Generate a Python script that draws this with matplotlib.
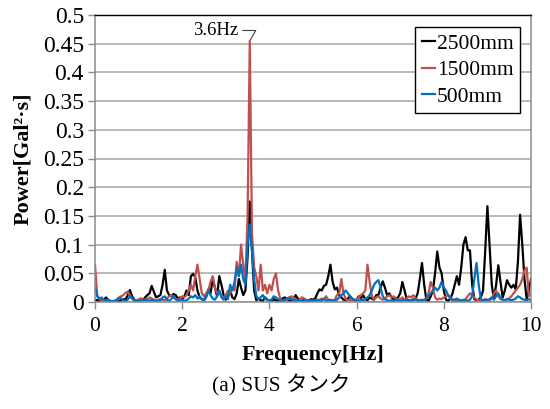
import numpy as np
import matplotlib
matplotlib.use("Agg")
import matplotlib.pyplot as plt

plt.rcParams['font.family'] = ['Liberation Serif', 'Noto Sans CJK JP', 'DejaVu Sans']

# frequency bins (Hz), 0.05 Hz step
freq = np.round(np.arange(201) * 0.05, 2)

p2500 = [
    0.004, 0.003, 0.002, 0.004, 0.003, 0.008, 0.004, 0.002, 0.001, 0.002,
    0.003, 0.002, 0.003, 0.005, 0.004, 0.012, 0.021, 0.010, 0.004, 0.002,
    0.004, 0.006, 0.003, 0.008, 0.012, 0.015, 0.028, 0.018, 0.008, 0.010,
    0.012, 0.030, 0.056, 0.020, 0.012, 0.010, 0.014, 0.012, 0.006, 0.008,
    0.005, 0.010, 0.020, 0.012, 0.045, 0.049, 0.043, 0.020, 0.008, 0.005,
    0.003, 0.010, 0.022, 0.015, 0.040, 0.025, 0.010, 0.045, 0.030, 0.012,
    0.004, 0.010, 0.020, 0.008, 0.005, 0.015, 0.040, 0.025, 0.012, 0.020,
    0.080, 0.175, 0.090, 0.020, 0.003, 0.006, 0.003, 0.002, 0.008, 0.004,
    0.003, 0.002, 0.005, 0.003, 0.002, 0.004, 0.006, 0.008, 0.005, 0.003,
    0.002, 0.004, 0.012, 0.006, 0.003, 0.002, 0.004, 0.003, 0.002, 0.005,
    0.004, 0.006, 0.015, 0.022, 0.020, 0.028, 0.030, 0.045, 0.065, 0.035,
    0.022, 0.025, 0.012, 0.008, 0.004, 0.003, 0.006, 0.010, 0.005, 0.003,
    0.004, 0.010, 0.006, 0.012, 0.005, 0.003, 0.008, 0.006, 0.004, 0.012,
    0.012, 0.025, 0.036, 0.025, 0.012, 0.015, 0.008, 0.004, 0.006, 0.008,
    0.015, 0.035, 0.020, 0.005, 0.002, 0.003, 0.004, 0.006, 0.015, 0.040,
    0.068, 0.030, 0.004, 0.002, 0.010, 0.020, 0.050, 0.088, 0.060, 0.050,
    0.020, 0.004, 0.002, 0.006, 0.015, 0.030, 0.045, 0.030, 0.060, 0.100,
    0.113, 0.090, 0.090, 0.030, 0.005, 0.003, 0.004, 0.008, 0.020, 0.090,
    0.167, 0.100, 0.030, 0.005, 0.030, 0.064, 0.035, 0.008, 0.020, 0.038,
    0.030, 0.025, 0.030, 0.022, 0.070, 0.152, 0.100, 0.040, 0.005, 0.020,
    0.040,
]

p1500 = [
    0.065, 0.012, 0.005, 0.003, 0.002, 0.004, 0.003, 0.002, 0.001, 0.002,
    0.003, 0.005, 0.010, 0.012, 0.016, 0.018, 0.012, 0.006, 0.003, 0.002,
    0.004, 0.006, 0.004, 0.003, 0.005, 0.008, 0.006, 0.004, 0.003, 0.004,
    0.005, 0.004, 0.003, 0.006, 0.010, 0.012, 0.008, 0.005, 0.004, 0.006,
    0.010, 0.008, 0.012, 0.020, 0.030, 0.020, 0.045, 0.065, 0.040, 0.015,
    0.010, 0.015, 0.020, 0.035, 0.045, 0.025, 0.015, 0.020, 0.010, 0.008,
    0.012, 0.020, 0.015, 0.025, 0.020, 0.070, 0.045, 0.100, 0.065, 0.040,
    0.150, 0.455, 0.120, 0.060, 0.045, 0.020, 0.065, 0.020, 0.030, 0.015,
    0.030, 0.020, 0.040, 0.050, 0.020, 0.005, 0.003, 0.002, 0.004, 0.006,
    0.010, 0.008, 0.004, 0.002, 0.005, 0.008, 0.006, 0.003, 0.002, 0.003,
    0.002, 0.003, 0.002, 0.004, 0.006, 0.005, 0.010, 0.004, 0.003, 0.002,
    0.004, 0.012, 0.015, 0.040, 0.015, 0.005, 0.003, 0.004, 0.003, 0.002,
    0.004, 0.008, 0.012, 0.015, 0.020, 0.065, 0.035, 0.010, 0.005, 0.008,
    0.010, 0.006, 0.004, 0.005, 0.010, 0.012, 0.008, 0.010, 0.006, 0.004,
    0.005, 0.008, 0.004, 0.006, 0.010, 0.008, 0.012, 0.006, 0.004, 0.003,
    0.002, 0.004, 0.006, 0.015, 0.035, 0.025, 0.008, 0.004, 0.006, 0.005,
    0.008, 0.010, 0.012, 0.008, 0.005, 0.003, 0.002, 0.004, 0.003, 0.002,
    0.005, 0.010, 0.015, 0.012, 0.008, 0.004, 0.003, 0.002, 0.003, 0.005,
    0.004, 0.003, 0.006, 0.015, 0.020, 0.010, 0.005, 0.004, 0.003, 0.005,
    0.006, 0.010, 0.015, 0.020, 0.025, 0.030, 0.040, 0.055, 0.060, 0.010,
    0.015,
]

p500 = [
    0.025, 0.010, 0.005, 0.008, 0.004, 0.003, 0.002, 0.001, 0.002, 0.001,
    0.004, 0.008, 0.006, 0.003, 0.002, 0.004, 0.010, 0.006, 0.003, 0.002,
    0.002, 0.001, 0.003, 0.005, 0.003, 0.002, 0.004, 0.002, 0.001, 0.002,
    0.003, 0.008, 0.010, 0.004, 0.002, 0.005, 0.010, 0.005, 0.002, 0.003,
    0.004, 0.002, 0.003, 0.006, 0.010, 0.008, 0.012, 0.006, 0.010, 0.005,
    0.003, 0.008, 0.020, 0.012, 0.006, 0.004, 0.010, 0.020, 0.008, 0.004,
    0.010, 0.005, 0.030, 0.020, 0.035, 0.060, 0.045, 0.065, 0.040, 0.030,
    0.100, 0.135, 0.090, 0.040, 0.010, 0.005, 0.008, 0.012, 0.006, 0.004,
    0.003, 0.004, 0.010, 0.008, 0.005, 0.003, 0.002, 0.004, 0.006, 0.008,
    0.005, 0.003, 0.002, 0.003, 0.002, 0.001, 0.002, 0.003, 0.002, 0.001,
    0.002, 0.003, 0.004, 0.002, 0.003, 0.005, 0.003, 0.002, 0.004, 0.003,
    0.002, 0.004, 0.008, 0.012, 0.015, 0.020, 0.015, 0.010, 0.006, 0.004,
    0.003, 0.002, 0.004, 0.003, 0.005, 0.008, 0.012, 0.020, 0.030, 0.035,
    0.038, 0.025, 0.010, 0.005, 0.003, 0.002, 0.003, 0.002, 0.004, 0.003,
    0.002, 0.003, 0.004, 0.003, 0.002, 0.003, 0.005, 0.004, 0.002, 0.003,
    0.004, 0.003, 0.006, 0.010, 0.015, 0.020, 0.025, 0.020, 0.025, 0.035,
    0.025, 0.020, 0.012, 0.006, 0.003, 0.004, 0.006, 0.003, 0.002, 0.004,
    0.003, 0.002, 0.004, 0.010, 0.040, 0.068, 0.030, 0.005, 0.003, 0.004,
    0.003, 0.005, 0.008, 0.004, 0.010, 0.015, 0.008, 0.004, 0.003, 0.005,
    0.004, 0.003, 0.004, 0.006, 0.010, 0.008, 0.005, 0.004, 0.003, 0.005,
    0.003,
]

series_labels = ['2500mm', '1500mm', '500mm']
series_colors = ['#000000', '#c0504d', '#0070c0']

yticks = [0, 0.05, 0.1, 0.15, 0.2, 0.25, 0.3, 0.35, 0.4, 0.45, 0.5]
ytick_labels = ['0', '0.05', '0.1', '0.15', '0.2', '0.25', '0.3', '0.35', '0.4', '0.45', '0.5']
xticks = [0, 2, 4, 6, 8, 10]

fig = plt.figure(figsize=(5.5, 4.09), dpi=100)
ax = fig.add_axes([95 / 550, 1 - 302 / 409, 436 / 550, 287 / 409])

for vals, lab, col in zip([p2500, p1500, p500], series_labels, series_colors):
    ax.plot(freq, vals, color=col, lw=1.6, label=lab, solid_joinstyle='round')

ax.set_xlim(0, 10)
ax.set_ylim(0, 0.5)
ax.set_xticks(xticks)
ax.set_yticks(yticks)
ax.set_yticklabels(ytick_labels)
ax.yaxis.grid(True, color='#a6a6a6', lw=1.1)
ax.set_axisbelow(True)
ax.tick_params(axis='both', color='#8c8c8c', length=5, width=1, direction='out')
ax.tick_params(axis='y', labelsize=17, pad=3)
ax.tick_params(axis='x', labelsize=15.5, pad=6)
for s in ['left', 'right', 'bottom']:
    ax.spines[s].set_color('#8c8c8c')
    ax.spines[s].set_linewidth(1.1)
ax.spines['top'].set_color('#000000')
ax.spines['top'].set_linewidth(1.0)

ax.set_xlabel('Frequency[Hz]', fontsize=16, fontweight='bold', labelpad=6)
ax.set_ylabel('Power[Gal²·s]', fontsize=16, fontweight='bold', labelpad=7)

ax.annotate('3.6Hz', xy=(3.55, 0.455), xytext=(3.29, 0.473), fontsize=13.5,
            ha='right', va='center',
            arrowprops=dict(arrowstyle='-', color='#404040', lw=0.8,
                            connectionstyle='angle,angleA=0,angleB=60,rad=0',
                            shrinkA=1, shrinkB=1))

leg = ax.legend(loc='upper right', bbox_to_anchor=(0.975, 0.958), borderaxespad=0,
                fontsize=15.5, handlelength=0.6, handletextpad=0.1, labelspacing=0.3,
                fancybox=False, framealpha=1, edgecolor='#000000', borderpad=0.3)
leg.get_frame().set_linewidth(1.0)

fig.text(281 / 550, 1 - 385 / 409, '(a) SUS タンク', fontsize=15.5, ha='center', va='center')

fig.savefig('out.png', dpi=100)
